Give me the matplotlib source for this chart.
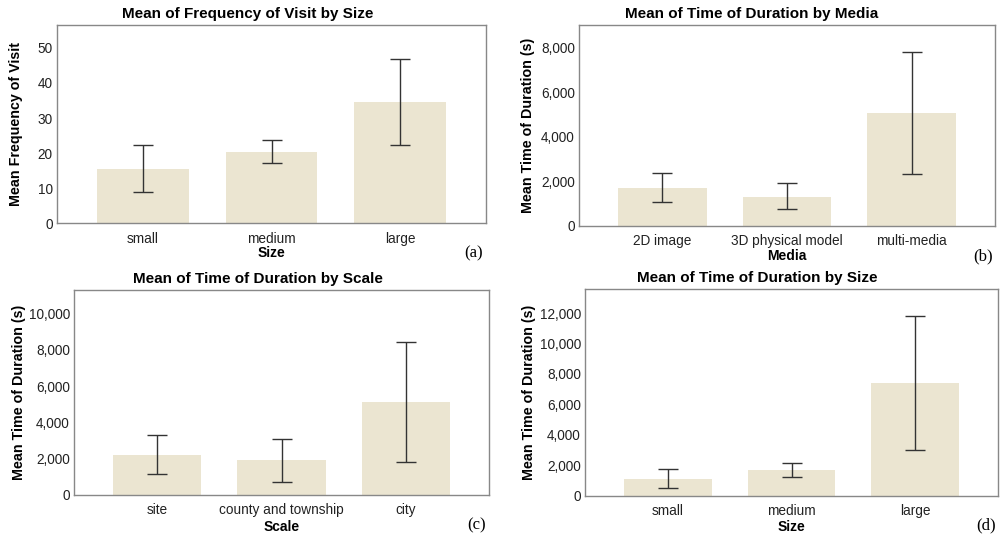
import matplotlib
matplotlib.use('Agg')
import matplotlib.pyplot as plt
from matplotlib.ticker import StrMethodFormatter

plt.rcParams['font.family'] = ['Liberation Sans', 'DejaVu Sans']

# (a) frequency of visit by size
size_cats = ['small', 'medium', 'large']
freq_mean = [15.6, 20.4, 34.6]
freq_low = [8.8, 17.1, 22.4]
freq_high = [22.4, 23.7, 46.9]

# (b) time of duration by media
media_cats = ['2D image', '3D physical model', 'multi-media']
media_mean = [1720, 1315, 5050]
media_low = [1076, 747, 2332]
media_high = [2377, 1913, 7800]

# (c) time of duration by scale
scale_cats = ['site', 'county and township', 'city']
scale_mean = [2224, 1912, 5110]
scale_low = [1158, 717, 1820]
scale_high = [3327, 3088, 8419]

# (d) time of duration by size
dur_mean = [1117, 1708, 7380]
dur_low = [504, 1248, 2978]
dur_high = [1752, 2168, 11825]

W, H = 1002, 534

# box in pixels: left, top, right, bottom; ylab/xlab = pixel distance of label centre from the axes
# tx = pixel x of the title centre
panels = [
    dict(cats=size_cats, mean=freq_mean, low=freq_low, high=freq_high,
         title='Mean of Frequency of Visit by Size', xlabel='Size',
         ylabel='Mean Frequency of Visit', ymax=56.5, step=10, tag='(a)',
         box=(57, 25, 486, 223.3), ylab=41, xlab=30, tx=248),
    dict(cats=media_cats, mean=media_mean, low=media_low, high=media_high,
         title='Mean of Time of Duration by Media', xlabel='Media',
         ylabel='Mean Time of Duration (s)', ymax=9010, step=2000, tag='(b)',
         box=(579, 25, 995, 226), ylab=51, xlab=30, tx=751.5),
    dict(cats=scale_cats, mean=scale_mean, low=scale_low, high=scale_high,
         title='Mean of Time of Duration by Scale', xlabel='Scale',
         ylabel='Mean Time of Duration (s)', ymax=11320, step=2000, tag='(c)',
         box=(74, 289.7, 489, 495), ylab=55, xlab=32, tx=258),
    dict(cats=size_cats, mean=dur_mean, low=dur_low, high=dur_high,
         title='Mean of Time of Duration by Size', xlabel='Size',
         ylabel='Mean Time of Duration (s)', ymax=13580, step=2000, tag='(d)',
         box=(585, 289, 998, 495.7), ylab=56, xlab=31, tx=757),
]

fig = plt.figure(figsize=(W / 100, H / 100), dpi=100)

for p in panels:
    l, t, r, b = p['box']
    aw, ah = r - l, b - t
    ax = fig.add_axes([l / W, 1 - b / H, aw / W, ah / H])
    x = range(len(p['cats']))
    err = [[m - lo for m, lo in zip(p['mean'], p['low'])],
           [hi - m for m, hi in zip(p['mean'], p['high'])]]
    ax.bar(x, p['mean'], width=0.71, color='#ebe5d1',
           yerr=err, capsize=7.5,
           error_kw=dict(ecolor='#333333', elinewidth=1.0, capthick=1.0))
    ax.set_xlim(-0.67, 2.67)
    ax.set_ylim(0, p['ymax'])
    ax.set_yticks(range(0, int(p['ymax']), p['step']))
    ax.yaxis.set_major_formatter(StrMethodFormatter('{x:,.0f}'))
    ax.set_xticks(list(x))
    ax.set_xticklabels(p['cats'])
    ax.tick_params(length=0, labelsize=9.8, labelcolor='#222222')
    ax.tick_params(axis='x', pad=6)
    ax.tick_params(axis='y', pad=3)
    for s in ax.spines.values():
        s.set_color('#888888')
        s.set_linewidth(1.0)
    ax.set_title(p['title'], fontsize=11, fontweight='bold', pad=5,
                 x=(p['tx'] - l) / aw, ha='center')
    ax.set_xlabel(p['xlabel'], fontsize=10, fontweight='bold', va='center')
    ax.set_ylabel(p['ylabel'], fontsize=10.25, fontweight='bold', va='center')
    ax.xaxis.set_label_coords(0.5, -p['xlab'] / ah)
    ax.yaxis.set_label_coords(-p['ylab'] / aw, 0.5)
    fig.text((r - 12) / W, 1 - (b + 30) / H, p['tag'], fontsize=12,
             family=['Liberation Serif', 'DejaVu Serif'], ha='center', va='center')

fig.savefig('out.png', dpi=100)
